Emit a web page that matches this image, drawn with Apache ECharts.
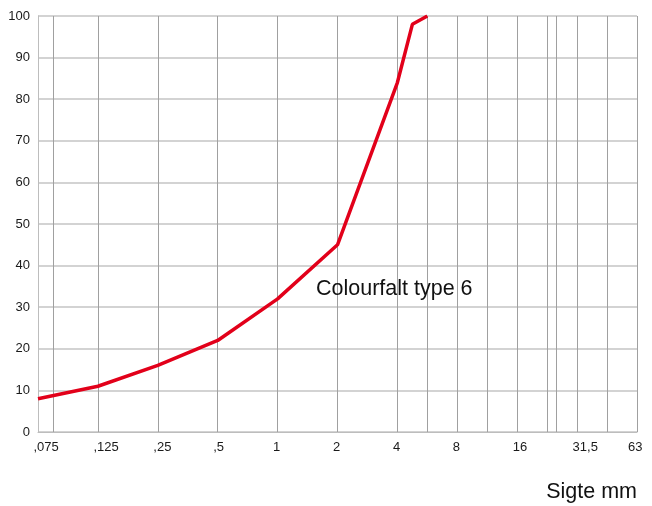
<!DOCTYPE html>
<html>
<head>
<meta charset="utf-8">
<script src="https://cdn.jsdelivr.net/npm/echarts@6/dist/echarts.min.js"></script>
<style>html,body{margin:0;padding:0;background:#fff}#c{width:652px;height:506px}</style>
</head>
<body>
<div id="c"></div>
<script>
// Sieve sizes (tick labels), placed at equal steps along the x axis
const sieveLabels = [',075', ',125', ',25', ',5', '1', '2', '4', '8', '16', '31,5', '63'];
// Extra intermediate sieve gridlines (positions in sieve-step units)
const extraSieves = [0.263, 6.5, 7.5, 8.5, 8.65, 9.5];
// Grading curve: x in sieve-step units, y = % passing
const curveX = [0, 1, 2, 3, 4, 5, 6, 6.25, 6.5];
const curveY = [8, 11, 16, 22, 32, 45, 84, 98, 100];
const yTicks = [0, 10, 20, 30, 40, 50, 60, 70, 80, 90, 100];
const annotation = 'Colourfalt type 6';
const axisTitle = 'Sigte mm';

const FONT = '"Liberation Sans", Arial, Helvetica, sans-serif';
const LABEL_SIZE = 13;
const chart = echarts.init(document.getElementById('c'), null, {renderer: 'canvas'});

// Labels in the reference start slightly left of their gridline; place label centres accordingly
const GRID_L = 38, GRID_R = 15, W = 652;
const maxX = sieveLabels.length - 1;
const pxPerStep = (W - GRID_L - GRID_R) / maxX;
const ctx = document.createElement('canvas').getContext('2d');
ctx.font = LABEL_SIZE + 'px ' + FONT;
const labelPos = sieveLabels.map((t, i) => {
  const w = ctx.measureText(t).width;
  const p = i + (w / 2 - 4.5) / pxPerStep;
  return Math.min(p, maxX - 0.03);
});

chart.setOption({
  animation: false,
  grid: {left: GRID_L, right: GRID_R, top: 16, bottom: 74, containLabel: false},
  xAxis: {
    type: 'value', min: 0, max: maxX, interval: 1,
    axisLine: {show: true, lineStyle: {color: '#bdbdbd', width: 1}},
    axisTick: {show: false},
    splitLine: {show: true, lineStyle: {color: '#a0a0a0', width: 1}},
    axisLabel: {
      customValues: labelPos,
      align: 'center',
      margin: 9,
      color: '#1a1a1a',
      fontFamily: FONT,
      fontSize: LABEL_SIZE,
      formatter: function (v) {
        let best = 0, d = 1e9;
        labelPos.forEach((p, i) => { if (Math.abs(p - v) < d) { d = Math.abs(p - v); best = i; } });
        return sieveLabels[best];
      }
    }
  },
  yAxis: {
    type: 'value', min: yTicks[0], max: yTicks[yTicks.length - 1], interval: 10,
    axisLine: {show: true, lineStyle: {color: '#bdbdbd', width: 1}},
    axisTick: {show: false},
    splitLine: {show: true, lineStyle: {color: '#c4c4c4', width: 1.5}},
    axisLabel: {color: '#1a1a1a', fontFamily: FONT, fontSize: LABEL_SIZE, margin: 8}
  },
  series: [{
    type: 'line',
    data: curveX.map((x, i) => [x, curveY[i]]),
    symbol: 'none',
    lineStyle: {color: '#e2001a', width: 3.5},
    z: 5,
    markLine: {
      silent: true,
      symbol: 'none',
      label: {show: false},
      lineStyle: {color: '#a0a0a0', width: 1, type: 'solid'},
      data: extraSieves.map(v => ({xAxis: v})),
      z: 1
    }
  }],
  graphic: [
    {type: 'text', left: 316, top: 278, z: 10,
     style: {text: annotation, font: '21.5px ' + FONT, fill: '#111'}},
    {type: 'text', right: 15, top: 481, z: 10,
     style: {text: axisTitle, font: '21.5px ' + FONT, fill: '#111'}}
  ]
});
</script>
</body>
</html>
